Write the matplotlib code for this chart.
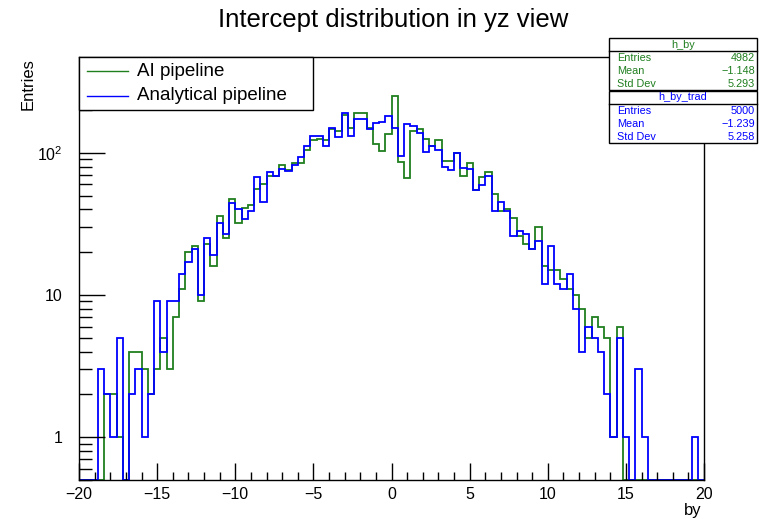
import numpy as np
import matplotlib.pyplot as plt
from matplotlib.patches import Rectangle
from matplotlib.lines import Line2D
from matplotlib.ticker import FixedLocator, LogLocator, NullFormatter

plt.rcParams['font.family'] = ['Liberation Sans', 'DejaVu Sans']
plt.rcParams['mathtext.fontset'] = 'custom'
plt.rcParams['mathtext.rm'] = 'Liberation Sans'

# 100 bins from -20 to 20
edges = np.linspace(-20, 20, 101)

h_by = [
    0, 0, 0, 0, 2, 2, 1, 0, 4, 4,
    3, 2, 3, 5, 3, 7, 11, 20, 22, 9,
    23, 16, 36, 25, 47, 32, 41, 43, 56, 60,
    69, 69, 82, 75, 85, 85, 104, 123, 124, 122,
    147, 142, 183, 150, 190, 190, 149, 115, 103, 136,
    250, 86, 66, 142, 147, 125, 111, 123, 87, 87,
    100, 69, 85, 55, 67, 73, 51, 39, 40, 35,
    26, 23, 21, 30, 16, 15, 15, 13, 11, 10,
    8, 5, 7, 6, 5, 1, 6, 0, 0, 0,
    0, 0, 0, 0, 0, 0, 0, 0, 0, 0,
]

h_by_trad = [
    0, 0, 0, 3, 2, 1, 5, 0, 2, 3,
    1, 2, 9, 4, 9, 9, 14, 17, 21, 10,
    25, 19, 32, 27, 44, 40, 34, 39, 67, 45,
    73, 69, 77, 74, 82, 93, 112, 132, 132, 111,
    149, 128, 189, 132, 173, 173, 146, 162, 164, 180,
    150, 95, 159, 155, 137, 101, 112, 105, 80, 75,
    100, 78, 77, 55, 59, 69, 39, 45, 39, 26,
    28, 27, 21, 24, 12, 22, 12, 11, 14, 8,
    4, 6, 5, 4, 2, 1, 5, 1, 0, 3,
    1, 0, 0, 0, 0, 0, 0, 0, 1, 0,
]

stats = [
    ("h_by", [("Entries", "4982"), ("Mean", "\u22121.148"), ("Std Dev", "5.293")]),
    ("h_by_trad", [("Entries", "5000"), ("Mean", "\u22121.239"), ("Std Dev", "5.258")]),
]
labels = ["AI pipeline", "Analytical pipeline"]

green = '#1f7f1f'
blue = '#0000ff'
colors = [green, blue]

W, H = 759, 519
fig = plt.figure(figsize=(W / 100, H / 100), dpi=100)


def fx(px):
    return px / W


def fy(py):
    return 1 - py / H


ax = fig.add_axes([fx(79), fy(480), fx(704) - fx(79), fy(57) - fy(480)])

ymin, ymax = 0.5, 471
for vals, col in zip((h_by, h_by_trad), colors):
    v = np.clip(np.asarray(vals, dtype=float), ymin, None)
    ax.stairs(v, edges, baseline=None, color=col, lw=1.3)

ax.set_yscale('log')
ax.set_xlim(-20, 20)
ax.set_ylim(ymin, ymax)

ax.set_xticks(np.arange(-20, 21, 5))
ax.set_xticks(np.arange(-20, 21, 1), minor=True)
ax.yaxis.set_major_locator(FixedLocator([1, 10, 100]))
ax.set_yticklabels(['1', '10', '$10^{2}$'])
ax.yaxis.set_minor_locator(LogLocator(base=10, subs=np.arange(2, 10)))
ax.yaxis.set_minor_formatter(NullFormatter())

ax.tick_params(axis='both', which='both', direction='in', top=False, right=False,
               width=1, labelsize=11.5, color='black')
ax.tick_params(axis='x', which='major', length=12, pad=5)
ax.tick_params(axis='x', which='minor', length=6)
ax.tick_params(axis='y', which='major', length=19, pad=12)
ax.tick_params(axis='y', which='minor', length=9)
for s in ax.spines.values():
    s.set_linewidth(1)
    s.set_color('black')

fig.text(fx(393), fy(20), "Intercept distribution in yz view", ha='center', va='center', fontsize=18.5)
fig.text(fx(28), fy(58), "Entries", rotation=90, ha='center', va='top', fontsize=12)
fig.text(fx(702), fy(511), "by", ha='right', va='center', fontsize=12)

# legend box
fig.add_artist(Rectangle((fx(79), fy(110)), fx(313) - fx(79), fy(57) - fy(110),
                         transform=fig.transFigure, facecolor='white', edgecolor='black', lw=1))
for i, (lab, col) in enumerate(zip(labels, colors)):
    yy = fy(71 + 25 * i)
    fig.add_artist(Line2D([fx(87), fx(128)], [yy, yy], transform=fig.transFigure, color=col, lw=1))
    fig.text(fx(137), yy, lab, ha='left', va='center', fontsize=13.5)

# statistics boxes
tops = [38, 91]
for (name, rows), col, top in zip(stats, colors, tops):
    fig.add_artist(Rectangle((fx(609), fy(top + 52)), fx(757) - fx(609), fy(top) - fy(top + 52),
                             transform=fig.transFigure, facecolor='white', edgecolor='black', lw=1))
    fig.add_artist(Line2D([fx(609), fx(757)], [fy(top + 12.5)] * 2, transform=fig.transFigure,
                          color='black', lw=1))
    fig.text(fx(683), fy(top + 6.5), name, ha='center', va='center', fontsize=7.8, color=col)
    for j, (k, val) in enumerate(rows):
        yy = fy(top + 20 + 13 * j)
        fig.text(fx(617), yy, k, ha='left', va='center', fontsize=7.8, color=col)
        fig.text(fx(755), yy, val, ha='right', va='center', fontsize=7.8, color=col)

fig.savefig("out.png", dpi=100)
